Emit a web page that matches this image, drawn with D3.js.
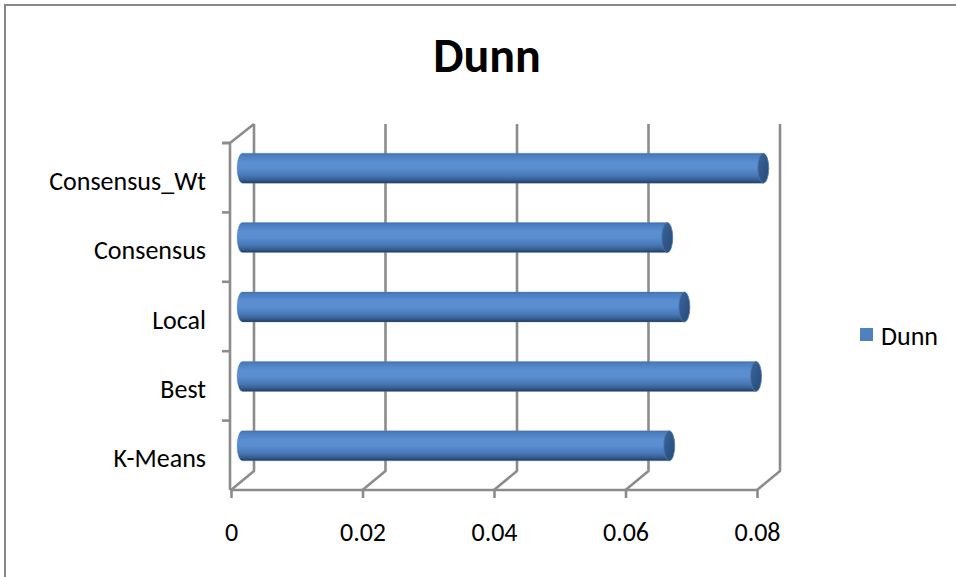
<!DOCTYPE html>
<html>
<head>
<meta charset="utf-8">
<script src="https://cdn.jsdelivr.net/npm/d3@7"></script>
<style>
  html, body { margin: 0; padding: 0; background: #fff; }
  svg { display: block; }
  text { font-family: Carlito, Calibri, Lato, "Open Sans", sans-serif; fill: #000; }
</style>
</head>
<body>
<svg id="chart" width="956" height="577"></svg>
<script>
// Dunn index per clustering method (bottom to top on the category axis)
const categories = ["K-Means", "Best", "Local", "Consensus", "Consensus_Wt"];
const dunnValues = [0.0649, 0.0781, 0.0672, 0.0646, 0.0792];
const tickValues = [0, 0.02, 0.04, 0.06, 0.08];
const tickLabels = ["0", "0.02", "0.04", "0.06", "0.08"];
const seriesName = "Dunn";
const chartTitle = "Dunn";

const svg = d3.select("#chart");
const W = 956, H = 577;
const labelSize = 26;

// chart area frame
svg.append("rect")
  .attr("x", 5).attr("y", 5).attr("width", W + 50).attr("height", H + 50)
  .attr("fill", "#fff").attr("stroke", "#878787").attr("stroke-width", 2);

// front plane of the 3-D plot and the depth offset of the back wall
const front = { left: 231, right: 757, top: 143, bottom: 490 };
const depth = { dx: 23, dy: -19 };

const x = d3.scaleLinear().domain([0, 0.08]).range([front.left, front.right]);
const y = d3.scaleBand().domain(categories).range([front.bottom, front.top]).padding(0);

const gridColor = "#8c8c8c";
const gridWidth = 2.6;

const grid = svg.append("g").attr("fill", "none").attr("stroke", gridColor)
  .attr("stroke-width", gridWidth).attr("stroke-linejoin", "round");

// back wall gridlines with their floor diagonals
tickValues.forEach(v => {
  const fx = x(v);
  grid.append("path").attr("d", d3.line()([
    [fx, front.bottom],
    [fx + depth.dx, front.bottom + depth.dy],
    [fx + depth.dx, front.top + depth.dy]
  ]));
});

// left wall: front edge and top diagonal
grid.append("path").attr("d", d3.line()([
  [front.left - 1, front.bottom],
  [front.left - 1, front.top],
  [front.left + depth.dx, front.top + depth.dy]
]));

// floor front edge (value axis line)
grid.append("line")
  .attr("x1", front.left - 1).attr("x2", front.right + 1)
  .attr("y1", front.bottom).attr("y2", front.bottom);

// value axis ticks and labels
const xAxis = d3.axisBottom(x)
  .tickValues(tickValues)
  .tickFormat((d, i) => tickLabels[i])
  .tickSize(8).tickPadding(25);
const gx = svg.append("g").attr("transform", `translate(0,${front.bottom})`).call(xAxis);
gx.select(".domain").remove();
gx.selectAll(".tick line").attr("stroke", gridColor).attr("stroke-width", gridWidth);
gx.selectAll(".tick text").attr("font-size", labelSize).attr("fill", "#000");

// category axis ticks (at band boundaries) and labels
const boundaries = categories.map(c => y(c)).concat([front.top]);
svg.append("g").selectAll("line").data(boundaries).join("line")
  .attr("x1", front.left - 9).attr("x2", front.left - 1)
  .attr("y1", d => d).attr("y2", d => d)
  .attr("stroke", gridColor).attr("stroke-width", gridWidth);

svg.append("g").selectAll("text").data(categories).join("text")
  .attr("x", front.left - 25)
  .attr("y", d => y(d) + y.bandwidth() / 2 + 3)
  .attr("dy", "0.35em")
  .attr("text-anchor", "end")
  .attr("font-size", labelSize)
  .text(d => d);

// cylinder gradients
const defs = svg.append("defs");
const body = defs.append("linearGradient").attr("id", "cylBody")
  .attr("x1", 0).attr("y1", 0).attr("x2", 0).attr("y2", 1);
[
  [0, "#3d6aa3"], [0.06, "#4a7dbd"], [0.3, "#5a8fd2"], [0.5, "#5a8ed0"],
  [0.75, "#4877b6"], [0.9, "#355c8f"], [1, "#1f3657"]
].forEach(([o, c]) => body.append("stop").attr("offset", o).attr("stop-color", c));

const cap = defs.append("linearGradient").attr("id", "cylCap")
  .attr("x1", 0).attr("y1", 0).attr("x2", 1).attr("y2", 1);
[[0, "#3a669c"], [0.5, "#30578a"], [1, "#284a76"]]
  .forEach(([o, c]) => cap.append("stop").attr("offset", o).attr("stop-color", c));

// cylinders sit halfway into the depth of the plot
const r = 15, rx = 5.5;
const bars = svg.append("g");
categories.forEach((c, i) => {
  const v = dunnValues[i];
  const cy = y(c) + y.bandwidth() / 2 + depth.dy / 2;
  const xs = x(0) + depth.dx / 2;
  const xe = x(v) + depth.dx / 2;
  const bodyD = `M${xs},${cy - r} L${xe},${cy - r} L${xe},${cy + r} L${xs},${cy + r} A${rx},${r} 0 0 1 ${xs},${cy - r} Z`;
  bars.append("path").attr("d", bodyD).attr("fill", "url(#cylBody)")
    .attr("stroke", "#6d8fbd").attr("stroke-width", 0.6).attr("stroke-opacity", 0.6);
  bars.append("ellipse")
    .attr("cx", xe).attr("cy", cy).attr("rx", rx).attr("ry", r)
    .attr("fill", "url(#cylCap)").attr("stroke", "#4f78ad").attr("stroke-width", 0.8);
});

// title
svg.append("text")
  .attr("x", 487).attr("y", 72)
  .attr("text-anchor", "middle")
  .attr("font-size", 48).attr("font-weight", "bold")
  .text(chartTitle);

// legend
const legend = svg.append("g").attr("transform", "translate(860,328)");
legend.append("rect").attr("width", 13).attr("height", 13).attr("fill", "#4f81bd");
legend.append("text").attr("x", 21).attr("y", 7.5).attr("dy", "0.35em")
  .attr("font-size", labelSize).text(seriesName);
</script>
</body>
</html>
